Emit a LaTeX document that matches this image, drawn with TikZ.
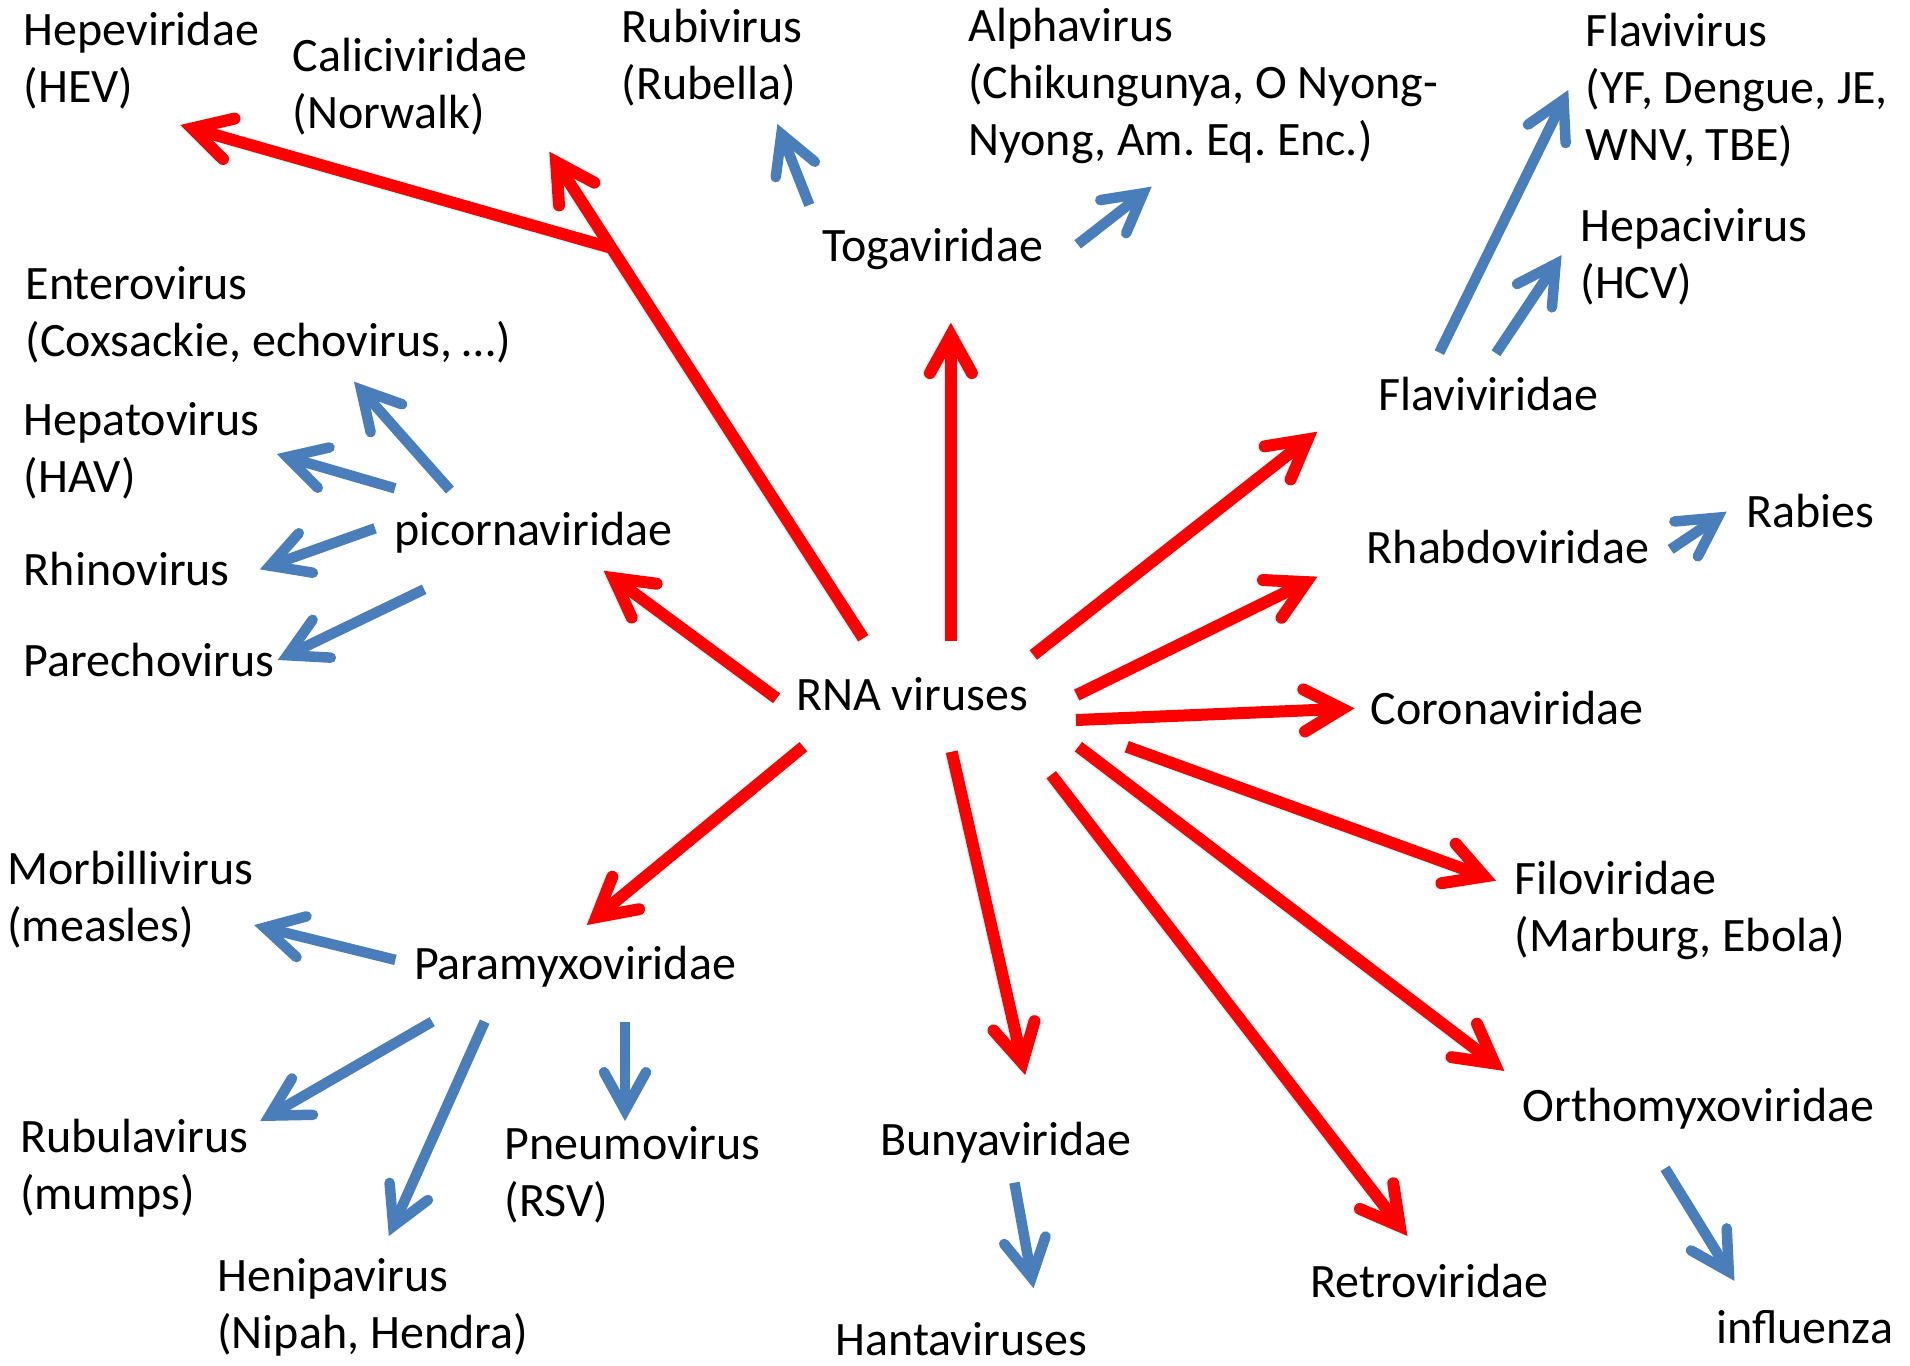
\documentclass[tikz,border=0pt]{standalone}
\usepackage{fontspec}
\setmainfont{Carlito}
\usetikzlibrary{arrows.meta}
\definecolor{arrred}{RGB}{255,0,0}
\definecolor{arrblue}{RGB}{74,126,187}
\newcommand\lblfont{\fontsize{48pt}{57pt}\selectfont}
\newcommand\mlines[1]{\begin{tabular}[t]{@{}l@{}}#1\end{tabular}}
\frenchspacing
\begin{document}
\begin{tikzpicture}[x=1.2181pt,y=-1.2181pt,
  lbl/.style={anchor=base west, inner sep=0pt, outer sep=0pt, font=\lblfont, text=black},
  redarr/.style={draw=arrred, line width=12pt, line cap=butt,
    -{Straight Barb[length=38pt,width=42pt,line cap=round,line join=miter]}},
  bluearr/.style={draw=arrblue, line width=10.5pt, line cap=butt,
    -{Straight Barb[length=38pt,width=42pt,line cap=round,line join=miter]}}]
\useasboundingbox (0,0) rectangle (1568,1121);

% ---------- labels ----------
\node[lbl] (hepe)     at (19.5,37)      {\mlines{Hepeviridae\\(HEV)}};
\node[lbl] (calici)   at (240.5,58.5)   {\mlines{Caliciviridae\\(Norwalk)}};
\node[lbl] (rubi)     at (510.5,35.2)   {\mlines{Rubivirus\\(Rubella)}};
\node[lbl] (alpha)    at (795,34)       {\mlines{Alphavirus\\(Chikungunya, O Nyong-\\Nyong, Am. Eq. Enc.)}};
\node[lbl] (flavivir) at (1302,38)      {\mlines{Flavivirus\\(YF, Dengue, JE,\\WNV, TBE)}};
\node[lbl] (hepaci)   at (1297.5,198)   {\mlines{Hepacivirus\\(HCV)}};
\node[lbl] (toga)     at (675,215)      {Togaviridae};
\node[lbl] (entero)   at (21,246)       {\mlines{Enterovirus\\(Coxsackie, echovirus, …)}};
\node[lbl] (hepato)   at (19.5,357.3)   {\mlines{Hepatovirus\\(HAV)}};
\node[lbl] (rhino)    at (19.5,481)     {Rhinovirus};
\node[lbl] (parecho)  at (19.5,555)     {Parechovirus};
\node[lbl] (picorna)  at (323.5,448)    {picornaviridae};
\node[lbl] (rna)      at (653.5,583.5)  {RNA viruses};
\node[lbl] (flavid)   at (1131.5,337)   {Flaviviridae};
\node[lbl] (rhabdo)   at (1122,463)     {Rhabdoviridae};
\node[lbl] (rabies)   at (1433.5,433.4) {Rabies};
\node[lbl] (corona)   at (1125.5,595)   {Coronaviridae};
\node[lbl] (filo)     at (1243.5,734)   {\mlines{Filoviridae\\(Marburg, Ebola)}};
\node[lbl] (ortho)    at (1250,921)     {Orthomyxoviridae};
\node[lbl] (influ)    at (1409,1103.3)  {influenza};
\node[lbl] (retro)    at (1075.5,1065.5){Retroviridae};
\node[lbl] (bunya)    at (722.8,948.4)  {Bunyaviridae};
\node[lbl] (hanta)    at (686,1112.5)   {Hantaviruses};
\node[lbl] (paramyxo) at (340,804)      {Paramyxoviridae};
\node[lbl] (morbilli) at (6,726)        {\mlines{Morbillivirus\\(measles)}};
\node[lbl] (rubula)   at (16.5,946.5)   {\mlines{Rubulavirus\\(mumps)}};
\node[lbl] (pneumo)   at (414.3,952)    {\mlines{Pneumovirus\\(RSV)}};
\node[lbl] (henipa)   at (178.5,1060)   {\mlines{Henipavirus\\(Nipah, Hendra)}};

% ---------- connector end points ----------
\coordinate (rna-picorna-s)  at (637.6,573.3);  \coordinate (rna-picorna-t)  at (495.5,468.5);
\coordinate (rna-calici-s)   at (708.7,524);    \coordinate (rna-calici-t)   at (451,124.5);
\coordinate (calici-hepe-s)  at (500,203);      \coordinate (calici-hepe-t)  at (148,102.6);
\coordinate (rna-toga-s)     at (780.6,526);    \coordinate (rna-toga-t)     at (780.6,264.9);
\coordinate (rna-flavid-s)   at (848.3,537.7);  \coordinate (rna-flavid-t)   at (1081.4,354.4);
\coordinate (rna-rhabdo-s)   at (883.9,570.6);  \coordinate (rna-rhabdo-t)   at (1081.6,473.4);
\coordinate (rna-corona-s)   at (883.3,591.1);  \coordinate (rna-corona-t)   at (1112,581.5);
\coordinate (rna-filo-s)     at (925,613);      \coordinate (rna-filo-t)     at (1228.1,723);
\coordinate (rna-ortho-s)    at (885.3,613);    \coordinate (rna-ortho-t)    at (1235,879.2);
\coordinate (rna-retro-s)    at (863,636);      \coordinate (rna-retro-t)    at (1155.4,1014.7);
\coordinate (rna-bunya-s)    at (781.3,617.1);  \coordinate (rna-bunya-t)    at (841.6,882.5);
\coordinate (rna-paramyxo-s) at (659.5,613);    \coordinate (rna-paramyxo-t) at (481.7,759.4);

\coordinate (toga-rubi-s)     at (664.4,168.3);  \coordinate (toga-rubi-t)     at (638.2,101.8);
\coordinate (toga-alpha-s)    at (884.7,200.6);  \coordinate (toga-alpha-t)    at (945.5,153.2);
\coordinate (flavid-flavivir-s) at (1181.6,289.5); \coordinate (flavid-flavivir-t) at (1287.5,73.9);
\coordinate (flavid-hepaci-s) at (1228.1,290);   \coordinate (flavid-hepaci-t) at (1282,209.4);
\coordinate (rhabdo-rabies-s) at (1371.5,451);   \coordinate (rhabdo-rabies-t) at (1417.5,420);
\coordinate (picorna-entero-s) at (369.4,402.3); \coordinate (picorna-entero-t) at (290.6,313.3);
\coordinate (picorna-hepato-s) at (324.3,400.9); \coordinate (picorna-hepato-t) at (227.2,372.7);
\coordinate (picorna-rhino-s)  at (307.9,433.7); \coordinate (picorna-rhino-t)  at (213.3,467.4);
\coordinate (picorna-parecho-s) at (348.2,483.8); \coordinate (picorna-parecho-t) at (228,541.8);
\coordinate (paramyxo-morbilli-s) at (324.6,788); \coordinate (paramyxo-morbilli-t) at (208.6,759.4);
\coordinate (paramyxo-rubula-s) at (354.8,838.7); \coordinate (paramyxo-rubula-t) at (213.6,920.3);
\coordinate (paramyxo-henipa-s) at (397.9,838.7); \coordinate (paramyxo-henipa-t) at (319.2,1014.7);
\coordinate (paramyxo-pneumo-s) at (513.1,838.7); \coordinate (paramyxo-pneumo-t) at (513.1,920.3);
\coordinate (bunya-hanta-s) at (832.8,970.9);    \coordinate (bunya-hanta-t) at (848.5,1057.6);
\coordinate (ortho-influ-s) at (1366.9,959.1);   \coordinate (ortho-influ-t) at (1423.9,1051.6);

% ---------- red connectors ----------
\draw[redarr] (rna-picorna-s) -- (rna-picorna-t);
\draw[redarr] (rna-calici-s) -- (rna-calici-t);
\draw[redarr] (calici-hepe-s) -- (calici-hepe-t);
\draw[redarr] (rna-toga-s) -- (rna-toga-t);
\draw[redarr] (rna-flavid-s) -- (rna-flavid-t);
\draw[redarr] (rna-rhabdo-s) -- (rna-rhabdo-t);
\draw[redarr] (rna-corona-s) -- (rna-corona-t);
\draw[redarr] (rna-filo-s) -- (rna-filo-t);
\draw[redarr] (rna-ortho-s) -- (rna-ortho-t);
\draw[redarr] (rna-retro-s) -- (rna-retro-t);
\draw[redarr] (rna-bunya-s) -- (rna-bunya-t);
\draw[redarr] (rna-paramyxo-s) -- (rna-paramyxo-t);

% ---------- blue connectors ----------
\draw[bluearr] (toga-rubi-s) -- (toga-rubi-t);
\draw[bluearr] (toga-alpha-s) -- (toga-alpha-t);
\draw[bluearr] (flavid-flavivir-s) -- (flavid-flavivir-t);
\draw[bluearr] (flavid-hepaci-s) -- (flavid-hepaci-t);
\draw[bluearr] (rhabdo-rabies-s) -- (rhabdo-rabies-t);
\draw[bluearr] (picorna-entero-s) -- (picorna-entero-t);
\draw[bluearr] (picorna-hepato-s) -- (picorna-hepato-t);
\draw[bluearr] (picorna-rhino-s) -- (picorna-rhino-t);
\draw[bluearr] (picorna-parecho-s) -- (picorna-parecho-t);
\draw[bluearr] (paramyxo-morbilli-s) -- (paramyxo-morbilli-t);
\draw[bluearr] (paramyxo-rubula-s) -- (paramyxo-rubula-t);
\draw[bluearr] (paramyxo-henipa-s) -- (paramyxo-henipa-t);
\draw[bluearr] (paramyxo-pneumo-s) -- (paramyxo-pneumo-t);
\draw[bluearr] (bunya-hanta-s) -- (bunya-hanta-t);
\draw[bluearr] (ortho-influ-s) -- (ortho-influ-t);
\end{tikzpicture}
\end{document}
